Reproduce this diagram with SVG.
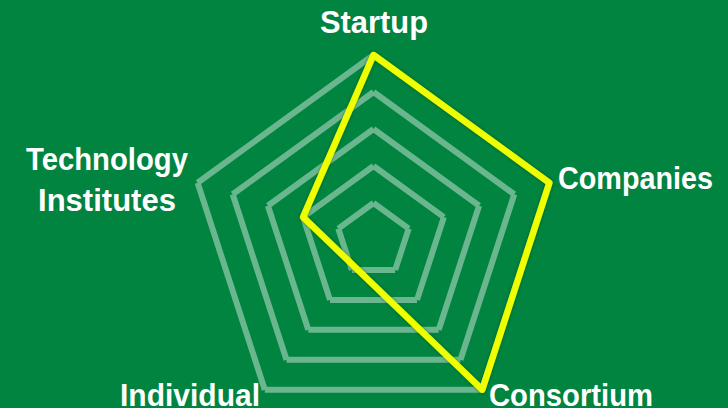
<svg xmlns="http://www.w3.org/2000/svg" width="728" height="408" viewBox="0 0 728 408">
  <style>
    .grid { fill: none; stroke: #6AB78F; stroke-width: 6; stroke-linecap: butt; }
    .lbl { font-family: "Liberation Sans", Arial, sans-serif; font-weight: bold; font-size: 30.5px; fill: #FFFFFF; }
    .data { fill: none; stroke: #EEFF00; stroke-width: 6.5; stroke-linejoin: round; }
  </style>
  <defs>
    <filter id="shadow" x="-10%" y="-10%" width="120%" height="120%">
      <feDropShadow dx="0" dy="0" stdDeviation="1.5" flood-color="#003015" flood-opacity="0.55"/>
    </filter>
  </defs>
  <rect width="728" height="408" fill="#00843F"/>
  <g id="grid">
    <path class="grid" d="M373.5,55 L549.4,182.8 M549.4,182.8 L482.2,389.7 M482.2,389.7 L264.8,389.7 M264.8,389.7 L197.6,182.8 M197.6,182.8 L373.5,55"/>
    <path class="grid" d="M373.5,92 L514.3,194.3 M514.3,194.3 L460.5,359.7 M460.5,359.7 L286.5,359.7 M286.5,359.7 L232.7,194.3 M232.7,194.3 L373.5,92"/>
    <path class="grid" d="M373.5,129 L479.1,205.7 M479.1,205.7 L438.7,329.8 M438.7,329.8 L308.3,329.8 M308.3,329.8 L267.9,205.7 M267.9,205.7 L373.5,129"/>
    <path class="grid" d="M373.5,166 L443.9,217.1 M443.9,217.1 L417.0,299.9 M417.0,299.9 L330.0,299.9 M330.0,299.9 L303.1,217.1 M303.1,217.1 L373.5,166"/>
    <path class="grid" d="M373.5,203 L408.7,228.6 M408.7,228.6 L395.2,269.9 M395.2,269.9 L351.8,269.9 M351.8,269.9 L338.3,228.6 M338.3,228.6 L373.5,203"/>
  </g>
  <g id="connectors">
    <polygon class="data" filter="url(#shadow)" points="373.5,55 549.4,182.8 482.2,389.7 303.1,217.1"/>
  </g>
  <g id="node-startup">
    <text class="lbl" x="374" y="33" text-anchor="middle" textLength="108" lengthAdjust="spacingAndGlyphs">Startup</text>
  </g>
  <g id="node-companies">
    <text class="lbl" x="558" y="189" textLength="155" lengthAdjust="spacingAndGlyphs">Companies</text>
  </g>
  <g id="node-consortium">
    <text class="lbl" x="489" y="406" textLength="164" lengthAdjust="spacingAndGlyphs">Consortium</text>
  </g>
  <g id="node-individual">
    <text class="lbl" x="120" y="406" textLength="140" lengthAdjust="spacingAndGlyphs">Individual</text>
  </g>
  <g id="node-technology-institutes">
    <text class="lbl" x="26" y="170" textLength="162" lengthAdjust="spacingAndGlyphs">Technology</text>
    <text class="lbl" x="38" y="211" textLength="138" lengthAdjust="spacingAndGlyphs">Institutes</text>
  </g>
</svg>
